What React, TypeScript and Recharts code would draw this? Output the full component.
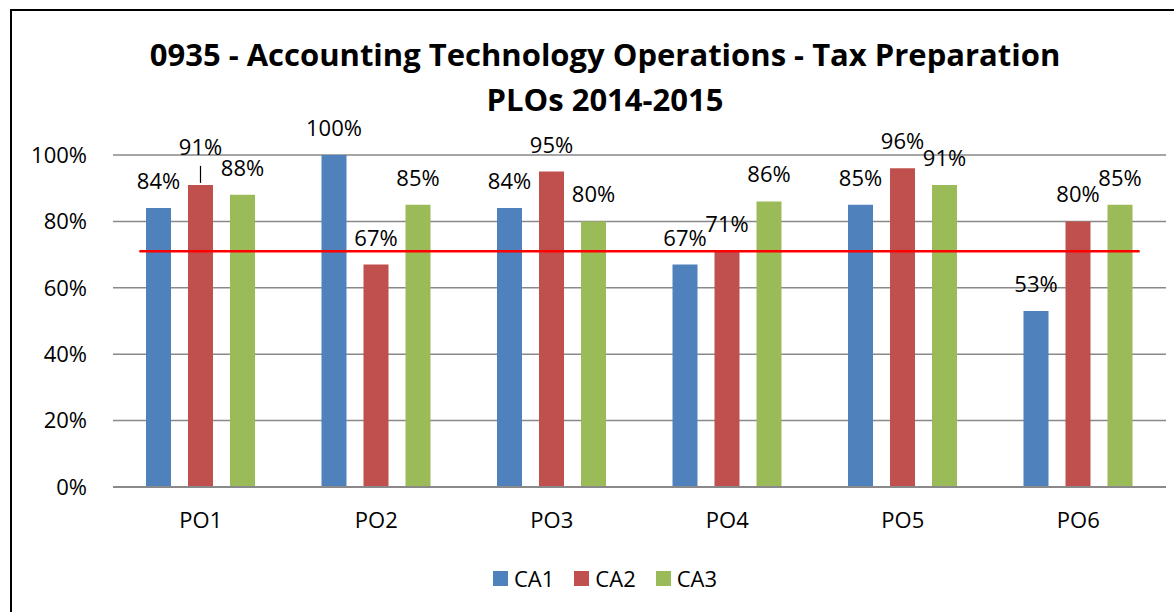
import React from "react";
import {
  BarChart,
  Bar,
  XAxis,
  YAxis,
  CartesianGrid,
  LabelList,
  ReferenceLine,
} from "recharts";

// chart values
const categories = ["PO1", "PO2", "PO3", "PO4", "PO5", "PO6"];
const ca1 = [84, 100, 84, 67, 85, 53];
const ca2 = [91, 67, 95, 71, 96, 80];
const ca3 = [88, 85, 80, 86, 91, 85];
const yTicks = [0, 20, 40, 60, 80, 100];
const seriesNames = ["CA1", "CA2", "CA3"];
const seriesColors = ["#4F81BD", "#C0504D", "#9BBB59"];

// target line, drawn across most of the plot (from/to in category units, 0..6)
const targetValue = 71;
const targetFrom = 0.15;
const targetTo = 5.85;

const FONT = "'Open Sans', sans-serif";

const data = categories.map((name, i) => ({
  name,
  CA1: ca1[i],
  CA2: ca2[i],
  CA3: ca3[i],
}));

// value label above each bar; the PO1 / CA2 one is lifted with a leader line
function makeLabel(series: string) {
  // eslint-disable-next-line @typescript-eslint/no-explicit-any
  return function BarLabel(props: any) {
    const { x, y, width, value, index } = props;
    const cx = Number(x) + Number(width) / 2;
    const top = Number(y);
    const lifted = series === "CA2" && index === 0;
    return (
      <g>
        {lifted && (
          <line x1={cx} x2={cx} y1={top - 2} y2={top - 19} stroke="#000" strokeWidth={1.2} />
        )}
        <text
          x={cx}
          y={top - (lifted ? 30 : 19)}
          textAnchor="middle"
          fill="#000"
          fontSize={22}
          fontFamily={FONT}
        >
          {value}%
        </text>
      </g>
    );
  };
}

// shortened red target line, spans only part of the plot width
// eslint-disable-next-line @typescript-eslint/no-explicit-any
function TargetLine(props: any) {
  const { x1, x2, y1 } = props;
  const w = Number(x2) - Number(x1);
  const n = categories.length;
  return (
    <line
      x1={Number(x1) + (w * targetFrom) / n}
      x2={Number(x1) + (w * targetTo) / n}
      y1={y1}
      y2={y1}
      stroke="#FF0000"
      strokeWidth={2.5}
    />
  );
}

export default function App() {
  return (
    <div
      style={{
        position: "fixed",
        left: 10,
        top: 9,
        width: 1220,
        height: 680,
        border: "2px solid #000",
        background: "#fff",
        fontFamily: FONT,
      }}
    >
      {/* title */}
      <div
        style={{
          position: "absolute",
          left: 0,
          top: 21,
          width: 1186,
          textAlign: "center",
          fontWeight: 700,
          fontSize: 31,
          lineHeight: "45px",
          color: "#000",
        }}
      >
        <div>0935 - Accounting Technology Operations - Tax Preparation</div>
        <div>PLOs 2014-2015</div>
      </div>

      <div style={{ position: "absolute", left: 0, top: 0 }}>
        <BarChart
          width={1162}
          height={601}
          data={data}
          margin={{ top: 144, right: 8, left: 11, bottom: 85 }}
          barSize={25}
          barGap={17}
        >
          <CartesianGrid vertical={false} stroke="#898989" strokeWidth={1.5} />
          <XAxis
            dataKey="name"
            axisLine={{ stroke: "#898989", strokeWidth: 2 }}
            tickLine={false}
            tickMargin={19}
            height={40}
            tick={{ fill: "#000", fontSize: 22, fontFamily: FONT }}
          />
          <YAxis
            width={90}
            domain={[0, 100]}
            ticks={yTicks}
            axisLine={false}
            tickLine={false}
            tickMargin={20}
            tickFormatter={(v) => `${v}%`}
            tick={{ fill: "#000", fontSize: 22, fontFamily: FONT }}
          />
          {seriesNames.map((s, i) => (
            <Bar key={s} dataKey={s} fill={seriesColors[i]} isAnimationActive={false}>
              <LabelList dataKey={s} content={makeLabel(s)} />
            </Bar>
          ))}
          <ReferenceLine y={targetValue} shape={TargetLine} />
        </BarChart>
      </div>

      {/* legend */}
      <div
        style={{
          position: "absolute",
          left: 481,
          top: 552,
          display: "flex",
          alignItems: "center",
          gap: 20,
          fontSize: 22,
          color: "#000",
        }}
      >
        {seriesNames.map((s, i) => (
          <div key={s} style={{ display: "flex", alignItems: "center", gap: 6 }}>
            <div style={{ width: 15, height: 15, background: seriesColors[i] }} />
            <span>{s}</span>
          </div>
        ))}
      </div>
    </div>
  );
}
